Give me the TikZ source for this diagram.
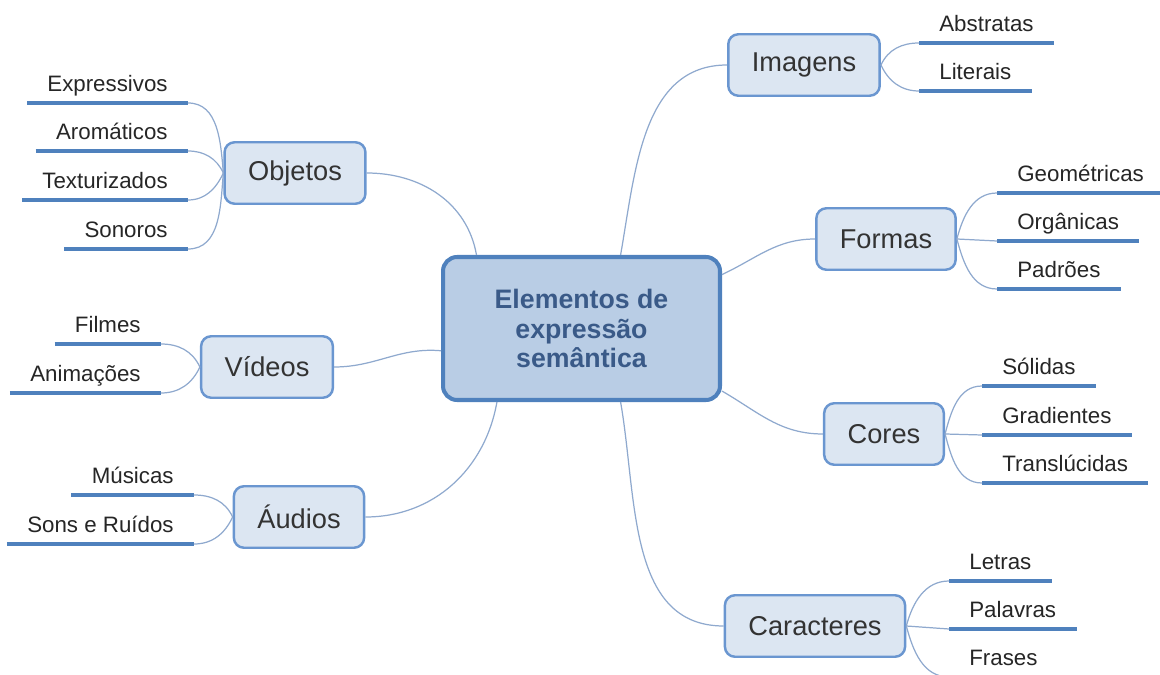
\documentclass[tikz,border=0pt]{standalone}
\usepackage{fontspec}
\setmainfont{Liberation Sans}
\definecolor{mapline}{HTML}{8FA9CE}
\definecolor{mapblue}{HTML}{4F81BD}
\definecolor{boxline}{HTML}{6A96D0}
\definecolor{boxfill}{HTML}{DCE6F2}
\definecolor{rootfill}{HTML}{B9CDE5}
\definecolor{roottext}{HTML}{3A5A88}
\definecolor{leaftext}{HTML}{262626}
\begin{document}
\begin{tikzpicture}
		[x=0.02cm, y=-0.02cm,
		root/.style={draw=mapblue, line width=2.3pt, fill=rootfill,
			rounded corners=0.28cm, minimum width=5.54cm, minimum height=2.86cm,
			align=center, text=roottext, font=\fontsize{15.2}{17}\selectfont\bfseries},
		branch/.style={draw=boxline, line width=1.4pt, fill=boxfill,
			rounded corners=0.2cm, minimum height=1.23cm, inner xsep=0.47cm,
			text=black!80, font=\fontsize{15.5}{18}\selectfont},
		leaf/.style={inner xsep=0.4cm, inner ysep=0pt, text height=0.36cm,
			text depth=0.22cm, text=leaftext, font=\fontsize{12.7}{15}\selectfont,
			append after command={(\tikzlastnode.south west)
				edge[mapblue, line width=2.3pt] (\tikzlastnode.south east)}},
		lleaf/.style={leaf, anchor=south east},
		rleaf/.style={leaf, anchor=south west},
		link/.style={draw=mapline, line width=0.7pt}
	]
	\useasboundingbox (0,0) rectangle (1160,675);

	\node[root] (main) at (581.5,328.5) {Elementos de\\expressão\\semântica};

	\node[branch] (imagens) at (804,65) {Imagens};
	\node[branch] (formas) at (886,239) {Formas};
	\node[branch] (cores) at (884,434) {Cores};
	\node[branch] (caracteres) at (815,626) {Caracteres};
	\node[branch] (objetos) at (295,173) {Objetos};
	\node[branch] (videos) at (267,367) {Vídeos};
	\node[branch] (audios) at (299,517) {Áudios};

	\node[lleaf] (expressivos) at (188,103) {Expressivos};
	\node[lleaf] (aromaticos) at (188,151) {Aromáticos};
	\node[lleaf] (texturizados) at (188,200) {Texturizados};
	\node[lleaf] (sonoros) at (188,249) {Sonoros};
	\node[lleaf] (filmes) at (161,344) {Filmes};
	\node[lleaf] (animacoes) at (161,393) {Animações};
	\node[lleaf] (musicas) at (194,495) {Músicas};
	\node[lleaf] (sons) at (194,544) {Sons e Ruídos};

	\node[rleaf] (abstratas) at (919,43) {Abstratas};
	\node[rleaf] (literais) at (919,91) {Literais};
	\node[rleaf] (geometricas) at (997,193) {Geométricas};
	\node[rleaf] (organicas) at (997,241) {Orgânicas};
	\node[rleaf] (padroes) at (997,289) {Padrões};
	\node[rleaf] (solidas) at (982,386) {Sólidas};
	\node[rleaf] (gradientes) at (982,435) {Gradientes};
	\node[rleaf] (transl) at (982,483) {Translúcidas};
	\node[rleaf] (letras) at (949,581) {Letras};
	\node[rleaf] (palavras) at (949,629) {Palavras};
	\node[rleaf] (frases) at (949,677) {Frases};

	\draw[link] (main.62) to[out=80, in=180] (imagens.west);
	\draw[link] (main.21) to[out=25, in=180] (formas.west);
	\draw[link] (main.-24) to[out=-30, in=180] (cores.west);
	\draw[link] (main.-62) to[out=-80, in=180] (caracteres.west);
	\draw[link] (main.145) to[out=100, in=0] (objetos.east);
	\draw[link] (main.189.5) to[out=175, in=0] (videos.east);
	\draw[link] (main.221) to[out=-100, in=0] (audios.east);

	\draw[link] (objetos.west) to[out=95, in=0] (expressivos.south east);
	\draw[link] (objetos.west) to[out=115, in=0] (aromaticos.south east);
	\draw[link] (objetos.west) to[out=-115, in=0] (texturizados.south east);
	\draw[link] (objetos.west) to[out=-95, in=0] (sonoros.south east);
	\draw[link] (videos.west) to[out=115, in=0] (filmes.south east);
	\draw[link] (videos.west) to[out=-115, in=0] (animacoes.south east);
	\draw[link] (audios.west) to[out=115, in=0] (musicas.south east);
	\draw[link] (audios.west) to[out=-115, in=0] (sons.south east);

	\draw[link] (imagens.east) to[out=65, in=180] (abstratas.south west);
	\draw[link] (imagens.east) to[out=-65, in=180] (literais.south west);
	\draw[link] (formas.east) to[out=75, in=180] (geometricas.south west);
	\draw[link] (formas.east) -- (organicas.south west);
	\draw[link] (formas.east) to[out=-75, in=180] (padroes.south west);
	\draw[link] (cores.east) to[out=75, in=180] (solidas.south west);
	\draw[link] (cores.east) -- (gradientes.south west);
	\draw[link] (cores.east) to[out=-75, in=180] (transl.south west);
	\draw[link] (caracteres.east) to[out=75, in=180] (letras.south west);
	\draw[link] (caracteres.east) -- (palavras.south west);
	\draw[link] (caracteres.east) to[out=-75, in=180] (frases.south west);
\end{tikzpicture}
\end{document}
